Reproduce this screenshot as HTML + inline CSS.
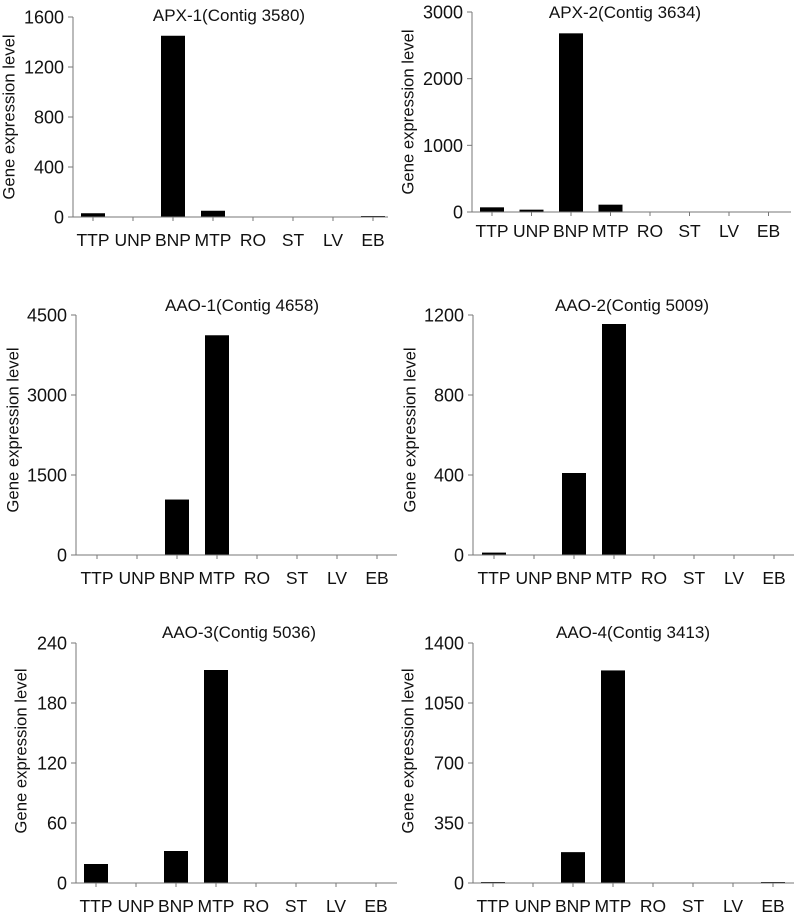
<!DOCTYPE html>
<html><head><meta charset="utf-8">
<style>
html,body{margin:0;padding:0;background:#fff;}
svg text{font-family:"Liberation Sans",Arial,sans-serif;fill:#111;}
</style></head>
<body>
<svg id="fig" width="797" height="914" viewBox="0 0 797 914" xmlns="http://www.w3.org/2000/svg"></svg>
<script>
const categories = ["TTP","UNP","BNP","MTP","RO","ST","LV","EB"];
const titles = ["APX-1(Contig 3580)","APX-2(Contig 3634)","AAO-1(Contig 4658)","AAO-2(Contig 5009)","AAO-3(Contig 5036)","AAO-4(Contig 3413)"];
const apx1Values = [30,0,1450,50,0,0,0,5];
const apx2Values = [70,35,2680,110,0,0,0,0];
const aao1Values = [0,0,1040,4120,0,0,0,0];
const aao2Values = [12,0,410,1155,0,0,0,0];
const aao3Values = [19,0,32,213,0,0,0,0];
const aao4Values = [3,0,180,1240,0,0,0,3];
const apx1Ticks = [0,400,800,1200,1600];
const apx2Ticks = [0,1000,2000,3000];
const aao1Ticks = [0,1500,3000,4500];
const aao2Ticks = [0,400,800,1200];
const aao3Ticks = [0,60,120,180,240];
const aao4Ticks = [0,350,700,1050,1400];

const layouts = [
 {ax:73, top:17, base:217, c0:93, step:40, end:388, ly:246, tx:229, ty:21, yx:9, yy:117},
 {ax:472, top:12, base:212, c0:492, step:39.5, end:791, ly:237, tx:625, ty:18, yx:408, yy:112},
 {ax:76, top:315, base:555, c0:97, step:40, end:397, ly:584, tx:242, ty:311, yx:13, yy:430},
 {ax:473, top:315, base:555, c0:494, step:40, end:794, ly:584, tx:632, ty:311, yx:410, yy:430},
 {ax:76, top:643, base:883, c0:96, step:40, end:397, ly:912, tx:239, ty:638, yx:21, yy:751},
 {ax:473, top:643, base:883, c0:493, step:40, end:794, ly:912, tx:633, ty:638, yx:408, yy:751}
];
const seriesList = [apx1Values,apx2Values,aao1Values,aao2Values,aao3Values,aao4Values];
const tickList = [apx1Ticks,apx2Ticks,aao1Ticks,aao2Ticks,aao3Ticks,aao4Ticks];
const NS="http://www.w3.org/2000/svg";
const svg=document.getElementById('fig');
function mk(tag,attrs,parent){const e=document.createElementNS(NS,tag);for(const k in attrs)e.setAttribute(k,attrs[k]);parent.appendChild(e);return e;}

layouts.forEach((L,i)=>{
  const g=mk('g',{},svg);
  
  
  const ticks=tickList[i], vals=seriesList[i];
  const max=ticks[ticks.length-1];
  const y=v=>L.base-(v/max)*(L.base-L.top);
  const x=k=>L.c0+k*L.step;
  const t=mk('text',{x:L.tx,y:L.ty,'text-anchor':'middle','font-size':17},g);
  t.textContent=titles[i];
  
  
  const yt=mk('text',{x:L.yx,y:L.yy,'text-anchor':'middle','font-size':16.7,'dominant-baseline':'central',transform:`rotate(-90 ${L.yx} ${L.yy})`},g);
  yt.textContent='Gene expression level';
  
  
  vals.forEach((v,k)=>{
    if(v<=0)return;
    const h=Math.max(L.base-y(v),1);
    const b=mk('rect',{x:x(k)-12,y:L.base-h,width:24,height:h,fill:'#000'},g);
    
    
  });
  const ya=mk('line',{x1:L.ax,y1:L.top,x2:L.ax,y2:L.base,stroke:'#777','stroke-width':1},g);
  
  
  const xa=mk('line',{x1:L.ax,y1:L.base,x2:L.end,y2:L.base,stroke:'#777','stroke-width':1},g);
  
  
  ticks.forEach(tv=>{
    mk('line',{x1:L.ax-5,y1:y(tv),x2:L.ax,y2:y(tv),stroke:'#777'},g);
    const tl=mk('text',{x:L.ax-9,y:y(tv)+6.5,'text-anchor':'end','font-size':18},g);
    tl.textContent=tv;
    
    
  });
  categories.forEach((c,k)=>{
    mk('line',{x1:x(k),y1:L.base,x2:x(k),y2:L.base+4,stroke:'#777'},g);
    const cl=mk('text',{x:x(k),y:L.ly,'text-anchor':'middle','font-size':17.5},g);
    cl.textContent=c;
    
    
  });
});
</script>
</body></html>
